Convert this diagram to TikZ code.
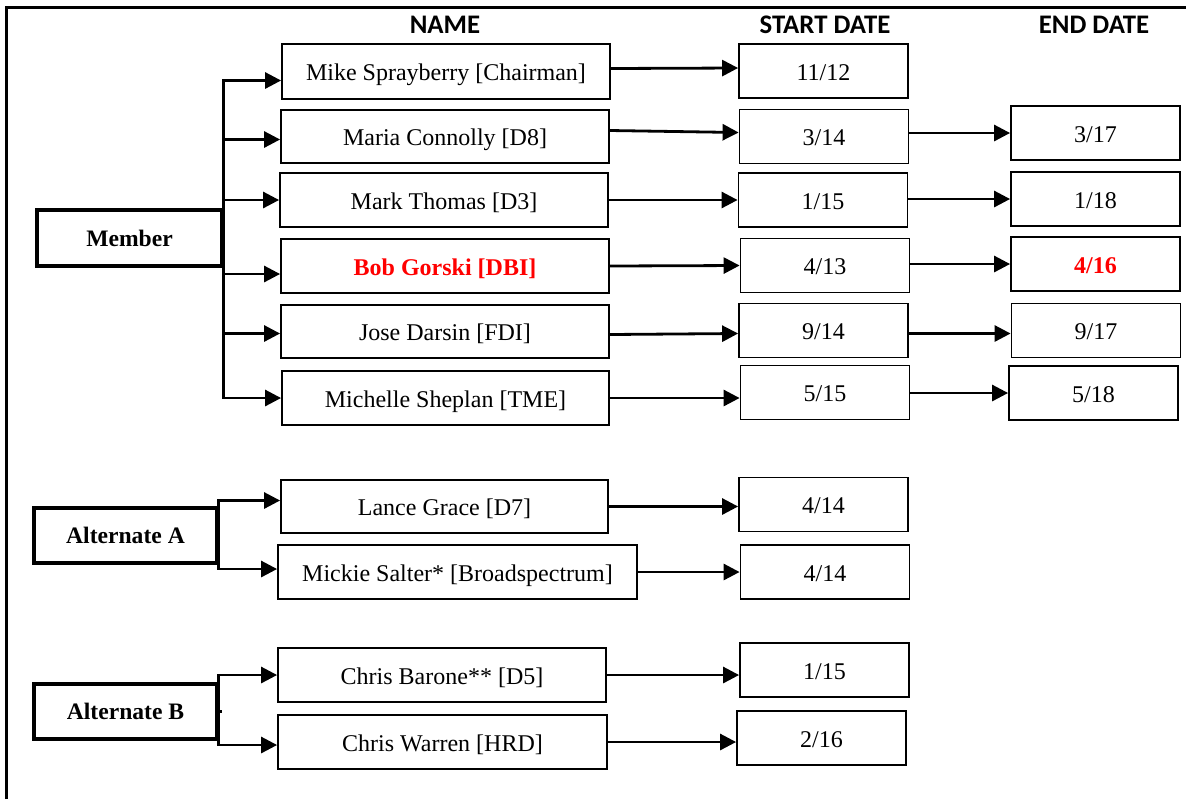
\documentclass[tikz,border=0pt]{standalone}
\usepackage{fontspec}
\setmainfont{Liberation Serif}
\newfontfamily\hdrfont{Carlito}
\usetikzlibrary{arrows.meta}
\definecolor{hired}{RGB}{255,0,0}
\tikzset{
  namebox/.style={draw, line width=0.9pt, inner sep=0pt, text height=11pt, text depth=2pt, font=\fontsize{12}{14}\selectfont},
  datebox/.style={namebox, minimum width=84.5pt, minimum height=27pt},
  catbox/.style={draw, line width=1.6pt, inner sep=0pt, font=\bfseries\fontsize{11.8}{14}\selectfont},
  hdr/.style={font=\hdrfont\bfseries\fontsize{13.4}{15}\selectfont},
  arr/.style={line width=1.4pt, -{Triangle[length=8pt,width=8pt]}},
  trunk/.style={line width=1.4pt},
  hl/.style={text=hired, font=\bfseries\fontsize{12}{14}\selectfont}
}
\begin{document}
\begin{tikzpicture}[x=0.5pt,y=-0.5pt]
\useasboundingbox (0,0) rectangle (1186,799);
% frame
\draw[line width=1.5pt] (6,799) -- (6,7) -- (1186,7);
% headers
\node[hdr] (hname) at (445,25) {NAME};
\node[hdr] (hstart) at (825,25) {START DATE};
\node[hdr] (hend) at (1094,25) {END DATE};
% categories
\node[catbox, minimum width=92.5pt, minimum height=28pt] (member) at (129.5,238) {Member};
\node[catbox, minimum width=91.5pt, minimum height=27.5pt] (altA) at (125.5,535.5) {Alternate A};
\node[catbox, minimum width=91.5pt, minimum height=27.5pt] (altB) at (125.5,711.5) {Alternate B};
% names
\node[namebox, minimum width=164pt, minimum height=27.5pt] (mike) at (446,71.5) {Mike Sprayberry [Chairman]};
\node[namebox, minimum width=164pt, minimum height=26.5pt] (maria) at (445,136.5) {Maria Connolly [D8]};
\node[namebox, minimum width=164pt, minimum height=27pt] (mark) at (444,200) {Mark Thomas [D3]};
\node[namebox, hl, minimum width=164pt, minimum height=27pt] (bob) at (445,266) {Bob Gorski [DBI]};
\node[namebox, minimum width=164pt, minimum height=26.5pt] (jose) at (445,331.5) {Jose Darsin [FDI]};
\node[namebox, minimum width=163.5pt, minimum height=27pt] (michelle) at (445.5,398) {Michelle Sheplan [TME]};
\node[namebox, minimum width=163.5pt, minimum height=26.5pt] (lance) at (444.5,506.5) {Lance Grace [D7]};
\node[namebox, minimum width=179.5pt, minimum height=27pt] (mickie) at (457.5,572) {Mickie Salter* [Broadspectrum]};
\node[namebox, minimum width=164pt, minimum height=27pt] (barone) at (442,675) {Chris Barone** [D5]};
\node[namebox, minimum width=164.5pt, minimum height=27pt] (warren) at (442.5,742) {Chris Warren [HRD]};
% start dates
\node[datebox] (s1) at (823.5,71) {11/12};
\node[datebox] (s2) at (824,136.5) {3/14};
\node[datebox] (s3) at (823,200) {1/15};
\node[datebox] (s4) at (825,265.5) {4/13};
\node[datebox] (s5) at (823.5,330.5) {9/14};
\node[datebox] (s6) at (825,392.5) {5/15};
\node[datebox] (s7) at (823.5,504.5) {4/14};
\node[datebox] (s8) at (825,572) {4/14};
\node[datebox] (s9) at (824.5,670) {1/15};
\node[datebox] (s10) at (821.5,738) {2/16};
% end dates
\node[datebox] (e2) at (1095.5,133) {3/17};
\node[datebox] (e3) at (1095.5,199) {1/18};
\node[datebox, hl] (e4) at (1095.5,264) {4/16};
\node[datebox] (e5) at (1096,330.5) {9/17};
\node[datebox] (e6) at (1093.5,393) {5/18};
% member connectors
\draw[arr] (member.east) |- ([yshift=-4.5pt]mike.west);
\draw[arr] (member.east) |- ([yshift=-1.5pt]maria.west);
\draw[arr] (member.east) |- (mark.west);
\draw[arr] (member.east) |- ([yshift=-4pt]bob.west);
\draw[arr] (member.east) |- ([yshift=-1pt]jose.west);
\draw[arr] (member.east) |- (michelle.west);
% alternate A
\draw[arr] (altA.east) |- ([yshift=3pt]lance.west);
\draw[arr] (altA.east) |- ([yshift=1.5pt]mickie.west);
% alternate B
\draw[arr] (altB.east) |- (barone.west);
\draw[arr] (altB.east) |- ([yshift=-1.5pt]warren.west);
\draw[trunk] (altB.east) -- ++(3,0);
% name -> start
\draw[arr] ([yshift=1.5pt]mike.east) -- ([yshift=1.5pt]s1.west);
\draw[arr] ([yshift=3pt]maria.east) -- ([yshift=2pt]s2.west);
\draw[arr] (mark.east) -- (s3.west);
\draw[arr] (bob.east) -- (s4.west);
\draw[arr] ([yshift=-1.5pt]jose.east) -- ([yshift=-1.5pt]s5.west);
\draw[arr] (michelle.east) -- (michelle.east -| s6.west);
\draw[arr] (lance.east) -- (lance.east -| s7.west);
\draw[arr] (mickie.east) -- (s8.west);
\draw[arr] (barone.east) -- (barone.east -| s9.west);
\draw[arr] (warren.east) -- (warren.east -| s10.west);
% start -> end
\draw[arr] (s2.east |- e2) -- (e2.west);
\draw[arr] (s3.east |- e3) -- (e3.west);
\draw[arr] (s4.east |- e4) -- (e4.west);
\draw[arr] ([yshift=-1.5pt]s5.east) -- ([yshift=-1.5pt]e5.west);
\draw[arr] (s6.east |- e6) -- (e6.west);
\end{tikzpicture}
\end{document}
